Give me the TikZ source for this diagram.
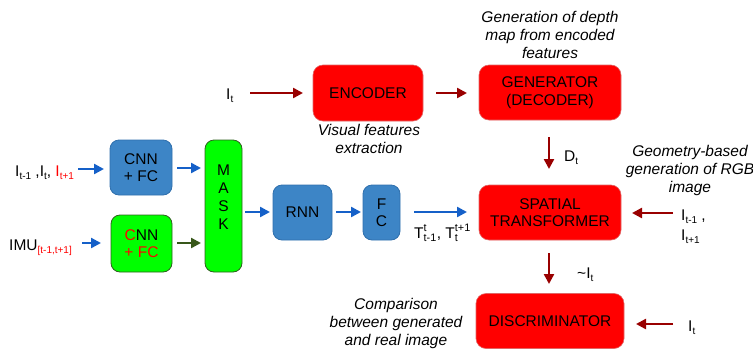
\documentclass[tikz,border=0pt]{standalone}
\usepackage{amsmath}
\usepackage{fontspec}
\setmainfont{Liberation Sans}
\usetikzlibrary{arrows.meta}
\definecolor{boxblue}{HTML}{3D85C6}
\definecolor{boxblueb}{HTML}{2F6FAD}
\definecolor{arrblue}{HTML}{1560C8}
\definecolor{darkred}{HTML}{990000}
\definecolor{redb}{HTML}{E06666}
\definecolor{greenb}{HTML}{2F5F1F}
\definecolor{arrgreen}{HTML}{38571A}
\definecolor{txtred}{HTML}{FF0000}
\newcommand{\sbs}[1]{\raisebox{-3pt}{\fontsize{10}{10}\selectfont #1}}
\begin{document}
\begin{tikzpicture}[x=1pt,y=-1pt,
  every node/.style={font=\fontsize{15.5}{17.5}\selectfont},
  redbox/.style={draw=redb,fill=red,rounded corners=10pt,line width=0.6pt,align=center,inner sep=0pt},
  bluebox/.style={draw=boxblueb,fill=boxblue,rounded corners=9pt,line width=0.8pt,align=center,inner sep=0pt},
  greenbox/.style={draw=greenb,fill=green,rounded corners=9pt,line width=0.8pt,align=center,inner sep=0pt},
  redarr/.style={draw=darkred,line width=2.4pt,-{Triangle[length=10pt,width=10pt]}},
  bluearr/.style={draw=arrblue,line width=2.4pt,-{Triangle[length=10pt,width=10pt]}},
  greenarr/.style={draw=arrgreen,line width=2.4pt,-{Triangle[length=10pt,width=10pt]}},
  note/.style={font=\fontsize{15.5}{18}\selectfont\itshape,align=center},
  lbl/.style={inner sep=0pt}
]
\useasboundingbox (0,0) rectangle (753,349);

% boxes
\node[redbox,minimum width=110pt,minimum height=56pt] (enc) at (368,93) {ENCODER};
\node[redbox,minimum width=142pt,minimum height=55pt] (gen) at (550,92.5) {GENERATOR\\(DECODER)};
\node[redbox,minimum width=142pt,minimum height=55pt] (st) at (550,212.5) {SPATIAL\\TRANSFORMER};
\node[redbox,minimum width=148pt,minimum height=55pt] (disc) at (550,321) {DISCRIMINATOR};

\node[bluebox,minimum width=62pt,minimum height=55pt] (cnn1) at (141,167.5) {CNN\\+ FC};
\node[greenbox,minimum width=61pt,minimum height=57pt] (cnn2) at (141.5,243.5) {\textcolor{txtred}{C}NN\\\textcolor{txtred}{+ FC}};
\node[greenbox,minimum width=37pt,minimum height=132pt,font=\fontsize{15.5}{18}\selectfont] (mask) at (223.5,206) {M\\A\\S\\K\\~};
\node[bluebox,minimum width=59pt,minimum height=55pt] (rnn) at (302.5,212.5) {RNN};
\node[bluebox,minimum width=37pt,minimum height=55pt] (fc) at (381.5,212.5) {F\\C};

% input labels
\node[lbl,anchor=base west] (it1) at (226,99) {I\sbs{t}};
\node[lbl,anchor=base west] (inimg) at (15,176) {I\sbs{t-1} ,I\sbs{t}, \textcolor{txtred}{I\sbs{t+1}}};
\node[lbl,anchor=base west] (imu) at (9,250) {IMU\textcolor{txtred}{\sbs{[t-1,t+1]}}};
\node[lbl,anchor=base west] (ipm1) at (681,220) {I\sbs{t-1} ,};
\node[lbl,anchor=base west] (ipm2) at (681,240) {I\sbs{t+1}};
\node[lbl,anchor=base west] (it2) at (688,331) {I\sbs{t}};
\node[lbl,anchor=base west] (dt) at (564,161) {D\sbs{t}};
\node[lbl,anchor=base west] (tit) at (577,278) {\textasciitilde I\sbs{t}};
\node[lbl,anchor=base west] (tlab) at (414,238) {$\text{T}^{\text{t}}_{\text{t-1}}$, $\text{T}^{\text{t+1}}_{\text{t}}$};

% coordinates for arrow ends
\coordinate (a1s) at (250,93);
\coordinate (a1e) at (303,93);
\coordinate (a2s) at (436,93);
\coordinate (a2e) at (467,93);
\coordinate (a3s) at (549,137);
\coordinate (a3e) at (549,169);
\coordinate (a4s) at (673,213);
\coordinate (a4e) at (632,213);
\coordinate (a5s) at (549,253);
\coordinate (a5e) at (549,284);
\coordinate (a6s) at (673,324);
\coordinate (a6e) at (636,324);
\coordinate (b1s) at (78,169);
\coordinate (b1e) at (104,169);
\coordinate (b2s) at (177,168);
\coordinate (b2e) at (201,168);
\coordinate (b3s) at (82,243);
\coordinate (b3e) at (101,243);
\coordinate (b4s) at (177,243);
\coordinate (b4e) at (201,243);
\coordinate (b5s) at (245,212);
\coordinate (b5e) at (270,212);
\coordinate (b6s) at (336,212);
\coordinate (b6e) at (361,212);
\coordinate (b7s) at (414,212);
\coordinate (b7e) at (467,212);

\draw[redarr] (a1s) -- (a1e);
\draw[redarr] (a2s) -- (a2e);
\draw[redarr] (a3s) -- (a3e);
\draw[redarr] (a4s) -- (a4e);
\draw[redarr] (a5s) -- (a5e);
\draw[redarr] (a6s) -- (a6e);
\draw[bluearr] (b1s) -- (b1e);
\draw[bluearr] (b2s) -- (b2e);
\draw[bluearr] (b3s) -- (b3e);
\draw[greenarr] (b4s) -- (b4e);
\draw[bluearr] (b5s) -- (b5e);
\draw[bluearr] (b6s) -- (b6e);
\draw[bluearr] (b7s) -- (b7e);

% notes
\node[note] (n1) at (550,35) {Generation of depth\\map from encoded\\features};
\node[note] (n2) at (369,139) {Visual features\\extraction};
\node[note] (n3) at (690,170) {Geometry-based\\generation of RGB\\image};
\node[note] (n4) at (396,323) {Comparison\\between generated\\and real image};
\end{tikzpicture}
\end{document}
